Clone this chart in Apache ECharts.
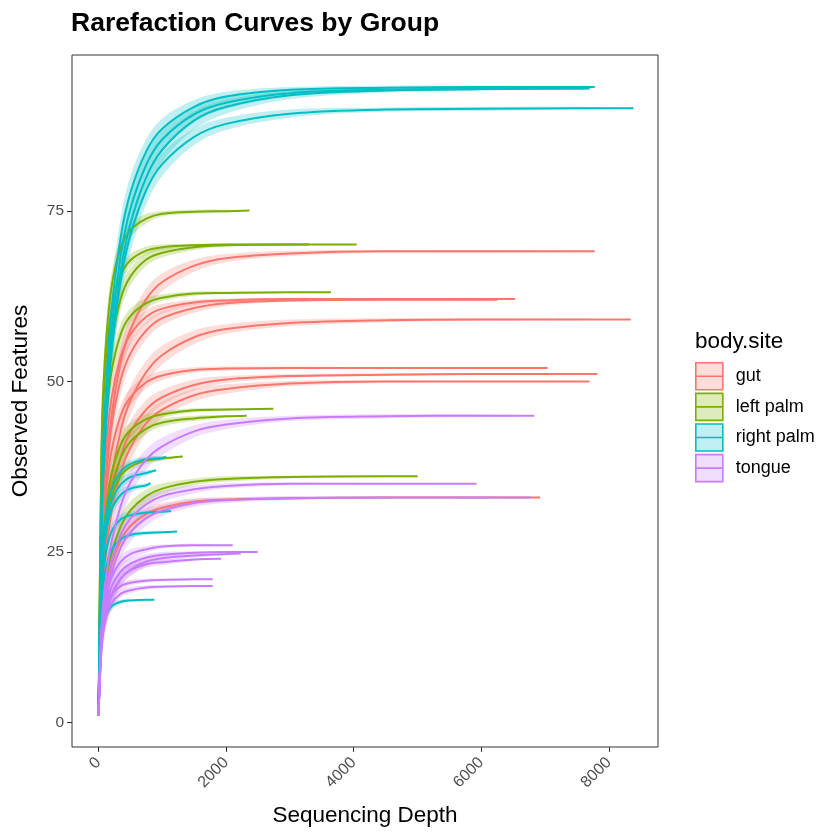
<!DOCTYPE html>
<html>
<head>
<meta charset="utf-8">
<title>Rarefaction Curves by Group</title>
<script src="https://cdn.jsdelivr.net/npm/echarts@6/dist/echarts.min.js"></script>
<style>
  html, body { margin: 0; padding: 0; background: #fff; }
  #chart { width: 840px; height: 840px; }
</style>
</head>
<body>
<div id="chart"></div>
<script>
  // depths where the curves were read; each curve also ends at its own last depth
  var depthGrid = [1, 50, 100, 200, 350, 500, 750, 1000, 1500, 2000, 3000, 4500, 6000, 7500];
  var xTicks = [0, 2000, 4000, 6000, 8000];
  var yTicks = [0, 25, 50, 75];

  var groups = ['gut', 'left palm', 'right palm', 'tongue'];
  var groupColors = ['#F8766D', '#7CAE00', '#00BFC4', '#C77CFF'];
  var groupFills = ['rgba(248,118,109,0.25)', 'rgba(124,174,0,0.25)', 'rgba(0,191,196,0.25)', 'rgba(199,124,255,0.25)'];

  // gut: last depth, observed features, ribbon half width
  var gutEnd = [7779, 6531, 6255, 8343, 7038, 7821, 7696, 6923];
  var gutObs = [
    [1, 25.1, 34.2, 44.5, 52.9, 57.6, 62.1, 64.6, 67.0, 68.1, 68.8, 69.1, 69.1, 69.1, 69.1],
    [1, 28.8, 37.9, 47.3, 53.7, 56.9, 59.5, 60.7, 61.6, 61.9, 62.1, 62.1, 62.1, 62.1],
    [1, 25.0, 33.7, 43.1, 50.3, 54.1, 57.5, 59.3, 60.8, 61.5, 61.9, 62.0, 62.0, 62.0],
    [1, 19.5, 26.9, 35.6, 42.9, 47.2, 51.4, 53.9, 56.5, 57.7, 58.6, 59.0, 59.1, 59.1, 59.1],
    [1, 24.2, 31.8, 39.6, 45.1, 47.7, 49.9, 50.9, 51.7, 51.9, 52.0, 52.0, 52.0, 52.0],
    [1, 18.5, 25.2, 32.9, 39.0, 42.6, 45.9, 47.7, 49.5, 50.3, 50.8, 51.0, 51.1, 51.1, 51.1],
    [1, 16.9, 23.2, 30.6, 36.7, 40.3, 43.9, 45.9, 48.0, 48.9, 49.7, 50.0, 50.0, 50.0, 50.0],
    [1, 13.3, 17.9, 22.9, 26.8, 28.8, 30.6, 31.5, 32.4, 32.7, 32.9, 33.0, 33.0, 33.0]
  ];
  var gutBand = [
    [0, 4.0, 3.5, 3.0, 2.4, 2.0, 1.6, 1.3, 0.9, 0.6, 0.4, 0.2, 0.2, 0.1, 0],
    [0, 3.5, 3.0, 2.3, 1.7, 1.4, 1.0, 0.7, 0.4, 0.3, 0.2, 0.1, 0.1, 0],
    [0, 3.6, 3.2, 2.6, 2.1, 1.7, 1.3, 1.0, 0.7, 0.4, 0.2, 0.1, 0.1, 0],
    [0, 3.8, 3.4, 2.9, 2.4, 2.1, 1.7, 1.4, 1.0, 0.7, 0.5, 0.3, 0.2, 0.1, 0],
    [0, 3.2, 2.7, 2.1, 1.6, 1.3, 0.9, 0.7, 0.4, 0.3, 0.2, 0.1, 0.1, 0],
    [0, 3.4, 3.1, 2.6, 2.1, 1.7, 1.4, 1.1, 0.8, 0.5, 0.3, 0.2, 0.1, 0.1, 0],
    [0, 3.5, 3.1, 2.6, 2.2, 1.9, 1.5, 1.2, 0.9, 0.7, 0.4, 0.2, 0.1, 0.1, 0],
    [0, 2.7, 2.3, 1.9, 1.5, 1.2, 0.9, 0.7, 0.5, 0.3, 0.2, 0.1, 0.1, 0]
  ];

  // left palm
  var leftPalmEnd = [2366, 3300, 4047, 3645, 2741, 2324, 1322, 5002];
  var leftPalmObs = [
    [1, 41.9, 53.3, 63.6, 69.7, 72.2, 73.9, 74.6, 74.9, 75.0, 75.1],
    [1, 40.3, 50.9, 60.3, 65.6, 67.8, 69.2, 69.7, 70.0, 70.1, 70.1, 70.1],
    [1, 34.6, 45.1, 55.4, 62.2, 65.4, 67.9, 68.9, 69.7, 70.0, 70.1, 70.1],
    [1, 32.6, 42.2, 51.2, 57.0, 59.6, 61.5, 62.3, 62.9, 63.0, 63.1, 63.1],
    [1, 22.7, 29.6, 36.4, 40.8, 42.9, 44.5, 45.2, 45.8, 45.9, 46.0],
    [1, 20.9, 27.5, 34.2, 38.9, 41.2, 43.1, 44.0, 44.6, 44.9, 45.0],
    [1, 21.8, 27.7, 33.0, 36.2, 37.5, 38.4, 38.7, 39.0],
    [1, 14.2, 19.1, 24.6, 28.8, 31.1, 33.2, 34.3, 35.3, 35.7, 36.0, 36.1, 36.1]
  ];
  var leftPalmBand = [
    [0, 3.5, 2.8, 2.0, 1.4, 1.0, 0.7, 0.4, 0.3, 0.2, 0],
    [0, 3.3, 2.6, 1.9, 1.3, 0.9, 0.6, 0.4, 0.2, 0.1, 0.1, 0],
    [0, 3.6, 3.0, 2.3, 1.7, 1.3, 0.9, 0.7, 0.4, 0.2, 0.1, 0],
    [0, 3.3, 2.7, 2.1, 1.5, 1.1, 0.8, 0.5, 0.3, 0.2, 0.1, 0],
    [0, 2.9, 2.4, 1.9, 1.4, 1.1, 0.7, 0.5, 0.3, 0.2, 0],
    [0, 2.9, 2.5, 2.0, 1.5, 1.2, 0.8, 0.6, 0.4, 0.2, 0],
    [0, 2.5, 2.0, 1.5, 1.0, 0.7, 0.5, 0.3, 0],
    [0, 2.8, 2.5, 2.0, 1.6, 1.3, 1.0, 0.8, 0.5, 0.4, 0.2, 0.1, 0]
  ];

  // right palm
  var rightPalmEnd = [7779, 7700, 7650, 8385, 1060, 904, 815, 1139, 1232, 877];
  var rightPalmObs = [
    [1, 33.8, 46.1, 60.0, 71.3, 77.7, 83.8, 87.1, 90.3, 91.8, 92.8, 93.1, 93.2, 93.2, 93.2],
    [1, 31.7, 43.6, 57.3, 68.6, 75.3, 81.8, 85.5, 89.2, 90.9, 92.3, 92.8, 92.9, 93.0, 93.0],
    [1, 29.9, 41.3, 54.8, 66.2, 73.1, 80.0, 84.0, 88.3, 90.3, 92.0, 92.7, 92.9, 93.0, 93.0],
    [1, 29.4, 40.7, 53.8, 64.9, 71.5, 78.1, 81.9, 85.9, 87.8, 89.3, 89.9, 90.0, 90.1, 90.1],
    [1, 23.1, 29.0, 34.0, 36.8, 37.9, 38.6, 38.8, 39.0],
    [1, 21.9, 27.5, 32.3, 34.9, 36.0, 36.6, 37.0],
    [1, 21.4, 26.7, 31.1, 33.4, 34.3, 34.8, 35.1],
    [1, 19.6, 24.2, 27.9, 29.8, 30.4, 30.8, 30.9, 31.0],
    [1, 17.7, 21.8, 25.2, 26.9, 27.5, 27.8, 27.9, 28.0],
    [1, 12.8, 15.2, 17.0, 17.7, 17.9, 18.0, 18.0]
  ];
  var rightPalmBand = [
    [0, 4.6, 4.1, 3.5, 2.8, 2.4, 1.8, 1.5, 1.0, 0.7, 0.4, 0.3, 0.2, 0.1, 0],
    [0, 4.7, 4.2, 3.6, 3.0, 2.5, 2.0, 1.6, 1.2, 0.9, 0.5, 0.3, 0.2, 0.1, 0],
    [0, 4.8, 4.3, 3.7, 3.1, 2.7, 2.2, 1.8, 1.3, 1.0, 0.6, 0.3, 0.2, 0.1, 0],
    [0, 4.7, 4.2, 3.6, 3.0, 2.6, 2.1, 1.7, 1.2, 0.9, 0.6, 0.3, 0.3, 0.2, 0],
    [0, 2.4, 1.9, 1.3, 0.9, 0.6, 0.4, 0.3, 0],
    [0, 2.3, 1.8, 1.3, 0.9, 0.6, 0.4, 0],
    [0, 2.2, 1.7, 1.2, 0.8, 0.5, 0.3, 0],
    [0, 2.0, 1.6, 1.1, 0.7, 0.5, 0.3, 0.2, 0],
    [0, 1.9, 1.5, 1.0, 0.6, 0.4, 0.3, 0.2, 0],
    [0, 1.4, 1.0, 0.6, 0.3, 0.2, 0.1, 0]
  ];

  // tongue
  var tongueEnd = [6829, 5926, 6777, 2105, 2496, 2230, 1922, 1791, 1791];
  var tongueObs = [
    [1, 14.3, 19.8, 26.3, 31.8, 35.2, 38.6, 40.5, 42.7, 43.7, 44.6, 44.9, 45.0, 45.0],
    [1, 13.4, 18.1, 23.4, 27.6, 29.9, 32.0, 33.2, 34.2, 34.7, 35.0, 35.0, 35.0],
    [1, 12.3, 16.7, 21.7, 25.7, 27.9, 30.0, 31.1, 32.2, 32.6, 32.9, 33.0, 33.0, 33.0],
    [1, 13.5, 17.4, 21.2, 23.6, 24.7, 25.4, 25.8, 26.0, 26.0, 26.0],
    [1, 12.4, 16.1, 19.8, 22.2, 23.3, 24.2, 24.6, 24.9, 25.0, 25.0],
    [1, 11.1, 14.7, 18.4, 21.1, 22.4, 23.6, 24.1, 24.5, 24.7, 24.8],
    [1, 11.6, 15.2, 18.7, 21.1, 22.3, 23.2, 23.5, 23.9, 24.0],
    [1, 12.8, 16.0, 18.6, 20.0, 20.5, 20.8, 20.9, 21.0, 21.0],
    [1, 11.8, 14.9, 17.4, 18.9, 19.4, 19.8, 19.9, 20.0, 20.0]
  ];
  var tongueBand = [
    [0, 3.3, 3.0, 2.6, 2.2, 1.9, 1.5, 1.3, 0.9, 0.7, 0.4, 0.3, 0.2, 0],
    [0, 2.8, 2.5, 2.1, 1.6, 1.4, 1.1, 0.8, 0.6, 0.4, 0.2, 0.1, 0],
    [0, 2.7, 2.4, 2.0, 1.6, 1.4, 1.1, 0.8, 0.6, 0.4, 0.3, 0.1, 0.1, 0],
    [0, 2.1, 1.8, 1.3, 0.9, 0.7, 0.5, 0.3, 0.2, 0.1, 0],
    [0, 2.1, 1.8, 1.4, 1.0, 0.8, 0.5, 0.4, 0.2, 0.1, 0],
    [0, 2.2, 1.9, 1.5, 1.2, 0.9, 0.7, 0.5, 0.3, 0.2, 0],
    [0, 2.1, 1.8, 1.4, 1.0, 0.8, 0.5, 0.4, 0.2, 0],
    [0, 1.7, 1.3, 0.9, 0.6, 0.4, 0.3, 0.2, 0.1, 0],
    [0, 1.7, 1.4, 1.0, 0.6, 0.5, 0.3, 0.2, 0.1, 0]
  ];

  var sets = [
    { end: gutEnd, obs: gutObs, band: gutBand },
    { end: leftPalmEnd, obs: leftPalmObs, band: leftPalmBand },
    { end: rightPalmEnd, obs: rightPalmObs, band: rightPalmBand },
    { end: tongueEnd, obs: tongueObs, band: tongueBand }
  ];

  var font = 'Liberation Sans, Arial, Helvetica, sans-serif';
  // legend key like ggplot: filled box, coloured border, line through the middle
  var keyIcon = 'path://M0,0 L27,0 L27,27 L0,27 Z M0,13.5 L27,13.5';

  var ribbonList = [];
  var lines = [];
  sets.forEach(function (set, g) {
    set.end.forEach(function (end, i) {
      var depths = depthGrid.filter(function (d) { return d < end; }).concat([end]);
      var obs = set.obs[i];
      var band = set.band[i];
      if (obs.length !== depths.length || band.length !== depths.length) {
        console.error('length mismatch', groups[g], i);
      }
      ribbonList.push({ depths: depths, obs: obs, band: band, fill: groupFills[g] });
      lines.push({
        name: groups[g], type: 'line',
        data: depths.map(function (d, j) { return [d, obs[j]]; }),
        symbol: 'none', smooth: 0.35,
        itemStyle: { color: groupColors[g] },
        lineStyle: { color: groupColors[g], width: 2 }
      });
    });
  });

  // confidence ribbons: one closed shape per curve, placed with the axes' own scales
  var ribbonSeries = {
    type: 'custom', name: 'ribbons', silent: true, clip: true,
    data: ribbonList.map(function (r) { return [r.depths[r.depths.length - 1], r.obs[r.obs.length - 1]]; }),
    renderItem: function (params, api) {
      var r = ribbonList[params.dataIndex];
      var n = r.depths.length;
      var pts = [];
      for (var j = 0; j < n; j++) {
        pts.push(api.coord([r.depths[j], r.obs[j] + r.band[j]]));
      }
      for (var j2 = n - 2; j2 >= 1; j2--) {
        pts.push(api.coord([r.depths[j2], r.obs[j2] - r.band[j2]]));
      }
      return {
        type: 'polygon',
        shape: { points: pts, smooth: 0.35 },
        style: { fill: r.fill, stroke: null }
      };
    }
  };

  var myChart = echarts.init(document.getElementById('chart'));
  var option = {
    animation: false,
    backgroundColor: '#fff',
    title: [
      {
        text: 'Rarefaction Curves by Group', left: 71, top: 10, padding: 0,
        textStyle: { fontFamily: font, fontSize: 26.5, fontWeight: 'bold', color: '#000' }
      },
      {
        text: 'body.site', left: 695, top: 330, padding: 0,
        textStyle: { fontFamily: font, fontSize: 22.5, fontWeight: 'normal', color: '#000' }
      }
    ],
    legend: {
      orient: 'vertical', left: 695, top: 362, padding: 0,
      itemWidth: 27, itemHeight: 27, itemGap: 2,
      icon: keyIcon,
      textStyle: { fontFamily: font, fontSize: 18, color: '#000', padding: [0, 0, 0, 8] },
      data: groups.map(function (g, i) {
        return { name: g, itemStyle: { color: groupFills[i], borderColor: groupColors[i], borderWidth: 1.6 } };
      }),
      selectedMode: false
    },
    grid: {
      left: 72, right: 182, top: 55, bottom: 93,
      show: true, borderColor: '#333', borderWidth: 1, backgroundColor: '#fff'
    },
    xAxis: {
      type: 'value', min: -415, max: 8770,
      name: 'Sequencing Depth', nameLocation: 'middle', nameGap: 57,
      nameTextStyle: { fontFamily: font, fontSize: 22.5, color: '#000' },
      axisLine: { show: false, onZero: false },
      axisTick: { show: true, length: 5, customValues: xTicks, lineStyle: { color: '#333' } },
      axisLabel: {
        customValues: xTicks, rotate: 45, margin: 13,
        formatter: function (v) { return String(v); },
        fontFamily: font, fontSize: 16, color: '#4D4D4D'
      },
      splitLine: { show: false }
    },
    yAxis: {
      type: 'value', min: -3.6, max: 97.9,
      name: 'Observed Features', nameLocation: 'middle', nameGap: 40,
      nameTextStyle: { fontFamily: font, fontSize: 22.5, color: '#000' },
      axisLine: { show: false, onZero: false },
      axisTick: { show: true, length: 5, customValues: yTicks, lineStyle: { color: '#333' } },
      axisLabel: { customValues: yTicks, margin: 8, fontFamily: font, fontSize: 15.5, color: '#4D4D4D' },
      splitLine: { show: false }
    },
    series: [ribbonSeries].concat(lines)
  };
  myChart.setOption(option);
</script>
</body>
</html>
